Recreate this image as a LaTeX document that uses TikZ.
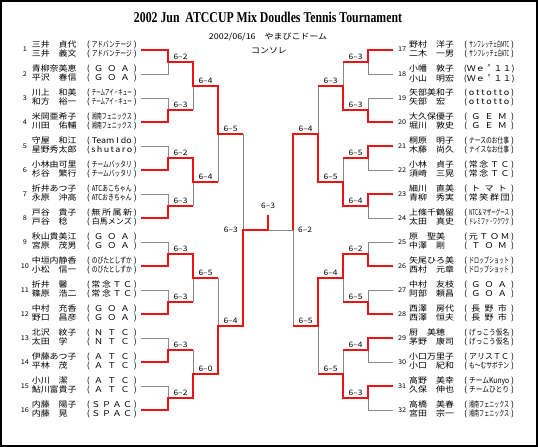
\documentclass[tikz,border=0pt]{standalone}
\usepackage{fontspec}
\usepackage{graphicx}
\usepackage{tikz}
\setmainfont{Liberation Serif}
\newfontfamily\jp[FakeStretch=1.12]{Noto Sans CJK JP}
\definecolor{winred}{HTML}{EE1111}
\definecolor{losegray}{HTML}{888888}
\newcommand{\tmfit}[1]{\makebox[50pt]{(\hfill\resizebox{40pt}{\height}{#1}\hfill)}}
\newcommand{\tmsp}[1]{\makebox[50pt]{(\hfill#1\hfill)}}
\newcommand{\goa}{\tmsp{Ｇ\hfill Ｏ\hfill Ａ}}
\newcommand{\pl}[5]{\makebox[10pt]{\fontsize{6.5}{6.5}\selectfont#1}\hspace{2pt}%
  \begin{tabular}{@{}l@{\hspace{10pt}}l@{}}\makebox[45pt][l]{#2}&#3\\\makebox[45pt][l]{#4}&#5\end{tabular}}
\tikzset{
	lentry/.style={anchor=east, inner xsep=4pt, inner ysep=0pt, font=\jp\fontsize{8}{8}\selectfont},
	rentry/.style={lentry, anchor=west},
	win/.style={draw=winred, line width=2.2pt},
	lose/.style={draw=losegray, line width=0.8pt},
	score/.style={above, inner sep=1pt, text=black, font=\jp\fontsize{7.5}{8}\selectfont},
	head/.style={font=\jp\fontsize{8}{8}\selectfont}
}
\begin{document}
\begin{tikzpicture}[x=1pt, y=-1pt]
		\useasboundingbox (0,0) rectangle (539,447);
		\draw[line width=2pt] (1,1) rectangle (536.7,445.7);
		
		% Titulo
		\node[anchor=base] (title) at (268,22.7) {\resizebox{268pt}{\height}{\fontsize{15}{15}\selectfont\bfseries 2002 Jun\ \ ATCCUP Mix Doudles Tennis Tournament}};
		\node[head] (date) at (268,37) {2002/06/16　やまびこドーム};
		\node[head] (cons) at (269,51) {コンソレ};
		
		% Jugadores izquierda
		\node[lentry] (p1) at (141,50) {\pl{1}{三井　貞代}{\tmfit{アドバンテージ}}{三井　義文}{\tmfit{アドバンテージ}}};
		\node[lentry] (p2) at (141,74) {\pl{2}{青柳奈美恵}{\goa}{平沢　春信}{\goa}};
		\node[lentry] (p3) at (141,98) {\pl{3}{川上　和美}{\tmfit{チームアイ・キュー}}{和方　裕一}{\tmfit{チームアイ・キュー}}};
		\node[lentry] (p4) at (141,122) {\pl{4}{米岡亜希子}{\tmfit{湘南フェニックス}}{川田　佑輔}{\tmfit{湘南フェニックス}}};
		\node[lentry] (p5) at (141,146) {\pl{5}{守屋　和江}{\tmfit{Team I do}}{星野秀太郎}{\tmsp{s\hfill h\hfill u\hfill t\hfill a\hfill r\hfill o}}};
		\node[lentry] (p6) at (141,170) {\pl{6}{小林由可里}{\tmfit{チームバッタリ}}{杉谷　繁行}{\tmfit{チームバッタリ}}};
		\node[lentry] (p7) at (141,194) {\pl{7}{折井あつ子}{\tmfit{ATCあこちゃん}}{永原　沖高}{\tmfit{ATCおきちゃん}}};
		\node[lentry] (p8) at (141,218) {\pl{8}{戸谷　貴子}{\tmsp{無\hfill 所\hfill 属\hfill 新}}{戸谷　稔}{\tmfit{白馬メンズ}}};
		\node[lentry] (p9) at (141,242) {\pl{9}{秋山貴美江}{\goa}{宮原　茂男}{\goa}};
		\node[lentry] (p10) at (141,266) {\pl{10}{中垣内静香}{\tmfit{のびたとしずか}}{小松　信一}{\tmfit{のびたとしずか}}};
		\node[lentry] (p11) at (141,290) {\pl{11}{折井　馨}{\tmsp{常\hfill 念\hfill Ｔ\hfill Ｃ}}{篠原　浩二}{\tmsp{常\hfill 念\hfill Ｔ\hfill Ｃ}}};
		\node[lentry] (p12) at (141,314) {\pl{12}{中村　充香}{\goa}{野口　昌彦}{\goa}};
		\node[lentry] (p13) at (141,338) {\pl{13}{北沢　紋子}{\tmsp{Ｎ\hfill Ｔ\hfill Ｃ}}{太田　学}{\tmsp{Ｎ\hfill Ｔ\hfill Ｃ}}};
		\node[lentry] (p14) at (141,362) {\pl{14}{伊藤あつ子}{\tmsp{Ａ\hfill Ｔ\hfill Ｃ}}{平林　茂}{\tmsp{Ａ\hfill Ｔ\hfill Ｃ}}};
		\node[lentry] (p15) at (141,386) {\pl{15}{小川　潔}{\tmsp{Ａ\hfill Ｔ\hfill Ｃ}}{鮎川富貴子}{\tmsp{Ａ\hfill Ｔ\hfill Ｃ}}};
		\node[lentry] (p16) at (141,410) {\pl{16}{内藤　陽子}{\tmsp{Ｓ\hfill Ｐ\hfill Ａ\hfill Ｃ}}{内藤　晃}{\tmsp{Ｓ\hfill Ｐ\hfill Ａ\hfill Ｃ}}};
		
		% Jugadores derecha
		\node[rentry] (p17) at (393,50) {\pl{17}{野村　洋子}{\tmfit{サンフレッチェ白MTC}}{二木　一男}{\tmfit{サンフレッチェ白ATC}}};
		\node[rentry] (p18) at (393,74) {\pl{18}{小幡　敦子}{\tmsp{Ｗ\hfill ｅ\hfill ＇\hfill １\hfill １}}{小山　明宏}{\tmsp{Ｗ\hfill ｅ\hfill ＇\hfill １\hfill １}}};
		\node[rentry] (p19) at (393,98) {\pl{19}{矢部美和子}{\tmsp{o\hfill t\hfill t\hfill o\hfill t\hfill t\hfill o}}{矢部　宏}{\tmsp{o\hfill t\hfill t\hfill o\hfill t\hfill t\hfill o}}};
		\node[rentry] (p20) at (393,122) {\pl{20}{大久保優子}{\tmsp{Ｇ\hfill Ｅ\hfill Ｍ}}{堀川　敦史}{\tmsp{Ｇ\hfill Ｅ\hfill Ｍ}}};
		\node[rentry] (p21) at (393,146) {\pl{21}{桐原　明子}{\tmfit{ナースのお仕事}}{木藤　尚久}{\tmfit{ナイスなお仕事}}};
		\node[rentry] (p22) at (393,170) {\pl{22}{小林　貞子}{\tmsp{常\hfill 念\hfill Ｔ\hfill Ｃ}}{須崎　三晃}{\tmsp{常\hfill 念\hfill Ｔ\hfill Ｃ}}};
		\node[rentry] (p23) at (393,194) {\pl{23}{細川　直美}{\tmsp{ト\hfill マ\hfill ト}}{青柳　秀実}{\tmsp{常\hfill 笑\hfill 群\hfill 団}}};
		\node[rentry] (p24) at (393,218) {\pl{24}{上條千鶴留}{\tmfit{NTC＆マザーグース}}{太田　真史}{\tmfit{ドレミファ・ワクワク}}};
		\node[rentry] (p25) at (393,242) {\pl{25}{原　聖美}{\tmsp{元\hfill Ｔ\hfill Ｏ\hfill Ｍ}}{中澤　剛}{\tmsp{Ｔ\hfill Ｏ\hfill Ｍ}}};
		\node[rentry] (p26) at (393,266) {\pl{26}{矢尾ひろ美}{\tmfit{ドロップショット}}{西村　元章}{\tmfit{ドロップショット}}};
		\node[rentry] (p27) at (393,290) {\pl{27}{中村　友枝}{\goa}{阿部　頼昌}{\goa}};
		\node[rentry] (p28) at (393,314) {\pl{28}{西澤　房代}{\tmsp{長\hfill 野\hfill 市}}{西澤　恒夫}{\tmsp{長\hfill 野\hfill 市}}};
		\node[rentry] (p29) at (393,338) {\pl{29}{厨　美穂}{\tmfit{げっこう仮名}}{茅野　康司}{\tmfit{げっこう仮名}}};
		\node[rentry] (p30) at (393,362) {\pl{30}{小口万里子}{\tmfit{アリスＴＣ}}{小口　紀和}{\tmfit{も～むサボテン}}};
		\node[rentry] (p31) at (393,386) {\pl{31}{高野　美幸}{\tmfit{チームKunyo}}{久保　伸也}{\tmfit{チームひとり}}};
		\node[rentry] (p32) at (393,410) {\pl{32}{高橋　美春}{\tmfit{湘南フェニックス}}{宮田　宗一}{\tmfit{湘南フェニックス}}};
		
		% Puntos de los partidos
		\coordinate (la1) at (168,62);  \coordinate (la2) at (168,110);
		\coordinate (la3) at (168,158); \coordinate (la4) at (168,206);
		\coordinate (la5) at (168,254); \coordinate (la6) at (168,302);
		\coordinate (la7) at (168,350); \coordinate (la8) at (168,398);
		\coordinate (lb1) at (193,86);  \coordinate (lb2) at (193,182);
		\coordinate (lb3) at (193,278); \coordinate (lb4) at (193,374);
		\coordinate (lc1) at (218,134); \coordinate (lc2) at (218,326);
		\coordinate (ld) at (243,230);
		\coordinate (ra1) at (368,62);  \coordinate (ra2) at (368,110);
		\coordinate (ra3) at (368,158); \coordinate (ra4) at (368,206);
		\coordinate (ra5) at (368,254); \coordinate (ra6) at (368,302);
		\coordinate (ra7) at (368,350); \coordinate (ra8) at (368,398);
		\coordinate (rb1) at (343,86);  \coordinate (rb2) at (343,182);
		\coordinate (rb3) at (343,278); \coordinate (rb4) at (343,374);
		\coordinate (rc1) at (318,134); \coordinate (rc2) at (318,326);
		\coordinate (rd) at (293,230);
		\coordinate (fin) at (268,230);
		\coordinate (champ) at (268,215);
		
		% Perdedores
		\draw[lose] (p2.east) -| (la1);
		\draw[lose] (p3.east) -| (la2);
		\draw[lose] (p5.east) -| (la3);
		\draw[lose] (p7.east) -| (la4);
		\draw[lose] (p9.east) -| (la5);
		\draw[lose] (p11.east) -| (la6);
		\draw[lose] (p13.east) -| (la7);
		\draw[lose] (p15.east) -| (la8);
		\draw[lose] (la2 -| lb1) -- (lb1);
		\draw[lose] (la4 -| lb2) -- (lb2);
		\draw[lose] (la6 -| lb3) -- (lb3);
		\draw[lose] (la7 -| lb4) -- (lb4);
		\draw[lose] (lb2 -| lc1) -- (lc1);
		\draw[lose] (lb3 -| lc2) -- (lc2);
		\draw[lose] (lc1 -| ld) -- (ld);
		\draw[lose] (p18.west) -| (ra1);
		\draw[lose] (p19.west) -| (ra2);
		\draw[lose] (p22.west) -| (ra3);
		\draw[lose] (p24.west) -| (ra4);
		\draw[lose] (p25.west) -| (ra5);
		\draw[lose] (p27.west) -| (ra6);
		\draw[lose] (p30.west) -| (ra7);
		\draw[lose] (p32.west) -| (ra8);
		\draw[lose] (ra1 -| rb1) -- (rb1);
		\draw[lose] (ra3 -| rb2) -- (rb2);
		\draw[lose] (ra6 -| rb3) -- (rb3);
		\draw[lose] (ra7 -| rb4) -- (rb4);
		\draw[lose] (rb1 -| rc1) -- (rc1);
		\draw[lose] (rb4 -| rc2) -- (rc2);
		\draw[lose] (rc2 -| rd) -- (rd);
		\draw[lose] (rd) -- (fin);
		
		% Ganadores izquierda
		\draw[win] (p1.east) -| (la1) -- node[score] (sla1) {6–2} (la1 -| lb1);
		\draw[win] (p4.east) -| (la2) -- node[score] (sla2) {6–3} (la2 -| lb1);
		\draw[win] (p6.east) -| (la3) -- node[score] (sla3) {6–2} (la3 -| lb2);
		\draw[win] (p8.east) -| (la4) -- node[score] (sla4) {6–3} (la4 -| lb2);
		\draw[win] (p10.east) -| (la5) -- node[score] (sla5) {6–3} (la5 -| lb3);
		\draw[win] (p12.east) -| (la6) -- node[score] (sla6) {6–3} (la6 -| lb3);
		\draw[win] (p14.east) -| (la7) -- node[score] (sla7) {6–3} (la7 -| lb4);
		\draw[win] (p16.east) -| (la8) -- node[score] (sla8) {6–2} (la8 -| lb4);
		\draw[win] (la1) -| (lb1) -- node[score] (slb1) {6–4} (lb1 -| lc1);
		\draw[win] (la3) -| (lb2) -- node[score] (slb2) {6–4} (lb2 -| lc1);
		\draw[win] (la5) -| (lb3) -- node[score] (slb3) {6–5} (lb3 -| lc2);
		\draw[win] (la8) -| (lb4) -- node[score] (slb4) {6–0} (lb4 -| lc2);
		\draw[win] (lb1) -| (lc1) -- node[score] (slc1) {6–5} (lc1 -| ld);
		\draw[win] (lb4) -| (lc2) -- node[score] (slc2) {6–4} (lc2 -| ld);
		\draw[win] (lc2) -| (ld) -- (fin) -- (champ);
		
		% Ganadores derecha
		\draw[win] (p17.west) -| (ra1) -- node[score] (sra1) {6–3} (ra1 -| rb1);
		\draw[win] (p20.west) -| (ra2) -- node[score] (sra2) {6–3} (ra2 -| rb1);
		\draw[win] (p21.west) -| (ra3) -- node[score] (sra3) {6–5} (ra3 -| rb2);
		\draw[win] (p23.west) -| (ra4) -- node[score] (sra4) {6–4} (ra4 -| rb2);
		\draw[win] (p26.west) -| (ra5) -- node[score] (sra5) {6–2} (ra5 -| rb3);
		\draw[win] (p28.west) -| (ra6) -- node[score] (sra6) {6–5} (ra6 -| rb3);
		\draw[win] (p29.west) -| (ra7) -- node[score] (sra7) {6–4} (ra7 -| rb4);
		\draw[win] (p31.west) -| (ra8) -- node[score] (sra8) {6–3} (ra8 -| rb4);
		\draw[win] (ra2) -| (rb1) -- node[score] (srb1) {6–3} (rb1 -| rc1);
		\draw[win] (ra4) -| (rb2) -- node[score] (srb2) {6–5} (rb2 -| rc1);
		\draw[win] (ra5) -| (rb3) -- node[score] (srb3) {6–4} (rb3 -| rc2);
		\draw[win] (ra8) -| (rb4) -- node[score] (srb4) {6–5} (rb4 -| rc2);
		\draw[win] (rb2) -| (rc1) -- node[score] (src1) {6–4} (rc1 -| rd);
		\draw[win] (rb3) -| (rc2) -- node[score] (src2) {6–5} (rc2 -| rd);
		\draw[win] (rc1) -| (rd);
		
		% Semifinales y final
		\node[score, left=4pt] (sld) at (ld) {6–3};
		\node[score, right=4pt] (srd) at (rd) {6–2};
		\node[score, above=5pt] (sfin) at (champ) {6–3};
	\end{tikzpicture}
\end{document}
